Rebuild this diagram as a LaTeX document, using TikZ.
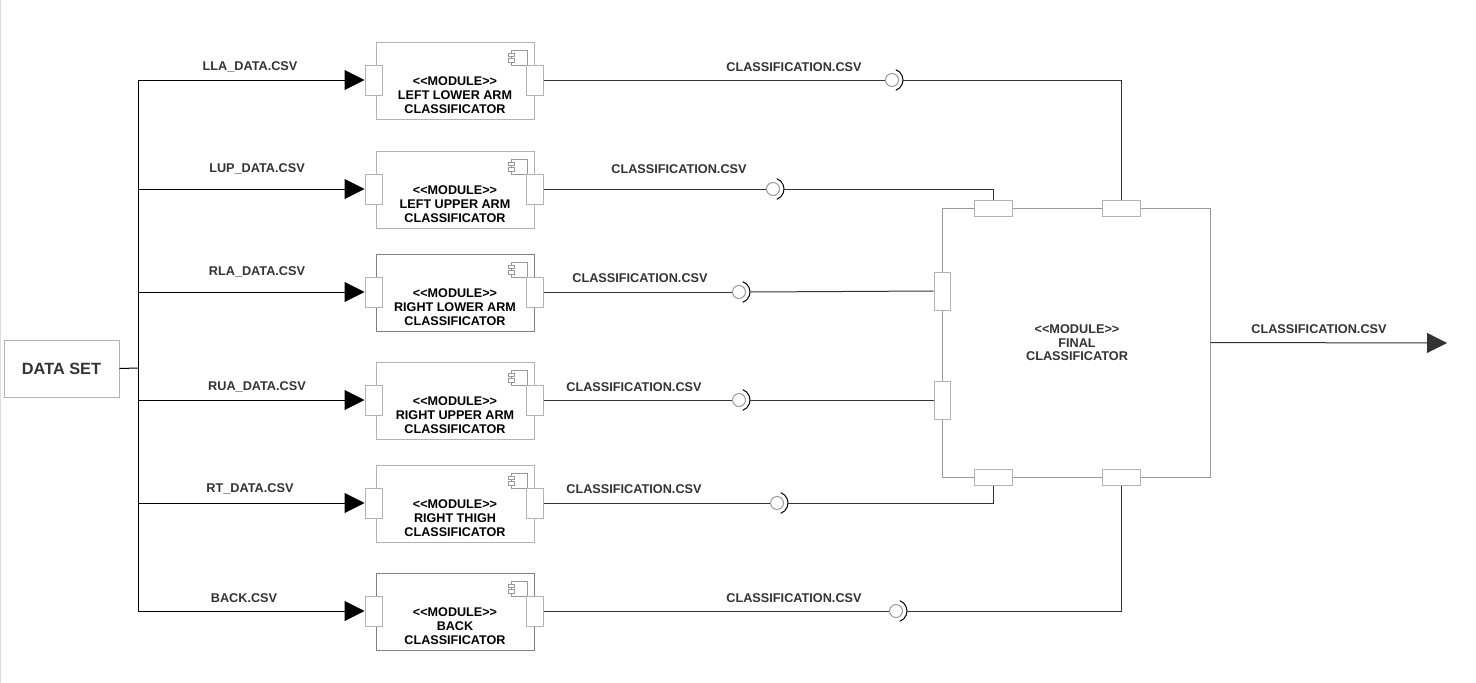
\documentclass[tikz,border=0pt]{standalone}
\usepackage{fontspec}
\setmainfont{Liberation Sans}
\usetikzlibrary{arrows.meta}
\definecolor{txt}{HTML}{333333}
\definecolor{lightb}{HTML}{B3B3B3}
\definecolor{darkb}{HTML}{808080}
\definecolor{portb}{HTML}{B3B3B3}
\definecolor{fgray}{HTML}{999999}
\definecolor{ballc}{HTML}{999999}
\tikzset{
  ln/.style={line width=1pt, draw=black},
  oln/.style={line width=1pt, draw=txt},
  inarr/.style={line width=1pt, -{Triangle[length=20pt,width=20pt]}},
  modbox/.style={line width=1pt, minimum width=158pt, minimum height=77pt, inner sep=0pt, fill=white},
  port/.style={draw=portb, fill=white, line width=1pt, minimum width=17pt, minimum height=30pt, inner sep=0pt},
  hport/.style={draw=portb, fill=white, line width=1pt, minimum width=38pt, minimum height=16pt, inner sep=0pt},
  vport/.style={draw=portb, fill=white, line width=1pt, minimum width=16pt, minimum height=38pt, inner sep=0pt},
  lbl/.style={font=\bfseries\fontsize{12.7}{14}\selectfont, text=txt, inner sep=0pt},
  modtxt/.style={font=\bfseries\fontsize{12.6}{14}\selectfont, text=black, align=center, inner sep=0pt},
  ball/.style={circle, draw=ballc, fill=white, line width=1pt, minimum size=13pt, inner sep=0pt},
  sock/.style={line width=1pt, draw=black},
  icon/.style={line width=0.8pt, draw=fgray, fill=white}
}
\begin{document}
\begin{tikzpicture}[x=1pt,y=-1pt]
\useasboundingbox (0,0) rectangle (1476,683);
\draw[line width=0.8pt, draw=gray!25] (0.5,0) -- (0.5,683);

% data set
\node[draw=lightb, line width=1pt, minimum width=115pt, minimum height=57pt, inner sep=0pt,
      font=\bfseries\fontsize{16.3}{18}\selectfont, text=txt] (ds) at (61.5,368.5) {DATA SET};
\coordinate (bus) at (138,368);
\coordinate (bt) at (138,80);
\coordinate (bb) at (138,611);
\draw[ln] (ds.east) -- (bus);
\draw[ln] (bt) -- (bb);

% final classifier
\node[draw=fgray, line width=1pt, minimum width=268pt, minimum height=269pt, inner sep=0pt, fill=white] (final) at (1076,342.5) {};
\node[lbl, align=center, font=\bfseries\fontsize{12.7}{13.5}\selectfont] (ftxt) at (1077,343) {<{}<MODULE>{}>\\FINAL\\CLASSIFICATOR};
\node[hport] (ft1) at (993,208) {};
\node[hport] (ft2) at (1121,208) {};
\node[hport] (fb1) at (993,477) {};
\node[hport] (fb2) at (1121,477) {};
\node[vport] (fl1) at (942,291) {};
\node[vport] (fl2) at (942,400) {};
\coordinate (outend) at (1447,343);
\draw[oln, inarr] (final.east) -- (outend);
\node[lbl] (outlbl) at (1319,329) {CLASSIFICATION.CSV};

\foreach \y/\i/\t/\lx/\bc/\il/\ilx/\ily/\clx/\cly in {
  80/1/LEFT LOWER ARM/892/lightb/LLA\_DATA.CSV/250/67/794/67,
  189/2/LEFT UPPER ARM/773/lightb/LUP\_DATA.CSV/257/169/679/169,
  292/3/RIGHT LOWER ARM/739/darkb/RLA\_DATA.CSV/257/272/640/278,
  400/4/RIGHT UPPER ARM/739/lightb/RUA\_DATA.CSV/257/387/634/387,
  503/5/RIGHT THIGH/777/lightb/RT\_DATA.CSV/250/489/634/489,
  611/6/BACK/896/darkb/BACK.CSV/244/598/794/598}{
  \node[modbox, draw=\bc] (mod\i) at (455,\y+0.5) {};
  \draw[icon] (511,\y-30) rectangle (527,\y-15);
  \draw[icon] (508,\y-27) rectangle (514,\y-24);
  \draw[icon] (508,\y-22) rectangle (514,\y-18);
  \node[modtxt] (mt\i) at (455,\y+15) {<{}<MODULE>{}>\\\t\\CLASSIFICATOR};
  \node[port] (lp\i) at (373.5,\y) {};
  \node[port] (rp\i) at (534.5,\y) {};
  \coordinate (b\i) at (138,\y);
  \draw[ln, inarr] (b\i) -- (lp\i.west);
  \node[lbl] (il\i) at (\ilx,\ily) {\il};
  \node[lbl] (cl\i) at (\clx,\cly) {CLASSIFICATION.CSV};
  \node[ball] (ball\i) at (\lx,\y) {};
  \draw[oln] (rp\i.east) -- (ball\i.west);
  \draw[sock] (\lx,\y) ++(-70:11) arc[start angle=-70, end angle=70, radius=11];
  \coordinate (s\i) at (\lx+11,\y);
}
\draw[oln] (s1) -| (ft2.north);
\draw[oln] (s2) -| (ft1.north);
\draw[oln] (s3) -- (fl1.west);
\draw[oln] (s4) -- (fl2.west);
\draw[oln] (s5) -| (fb1.south);
\draw[oln] (s6) -| (fb2.south);
\end{tikzpicture}
\end{document}
